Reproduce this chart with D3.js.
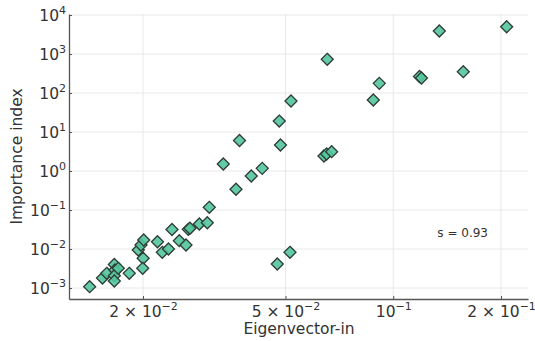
<!DOCTYPE html>
<html><head><meta charset="utf-8">
<script src="https://cdn.jsdelivr.net/npm/d3@7"></script>
<style>
body{margin:0;background:#fff}
svg{display:block}
text{font-family:"DejaVu Sans",sans-serif}
</style>
</head><body>
<svg id="chart" width="535" height="341"></svg>
<script>
// ---- data ----
const eigenvectorIn = [
  0.01419, 0.01541, 0.01584, 0.01663, 0.01670, 0.01663, 0.01663, 0.01706, 0.01831, 0.01940,
  0.01974, 0.02009, 0.02002, 0.01996, 0.02195, 0.02264, 0.02356, 0.02410, 0.02526, 0.02637,
  0.02676, 0.02705, 0.02873, 0.03024, 0.03063, 0.03352, 0.03637, 0.03720, 0.04013, 0.04306,
  0.04804, 0.04842, 0.04743, 0.05147, 0.05181, 0.06405, 0.06516, 0.06730, 0.06541, 0.08796,
  0.09143, 0.1184, 0.1199, 0.1345, 0.1569, 0.2074
];
const importanceIndex = [
  0.00108, 0.00180, 0.00238, 0.00401, 0.00290, 0.00207, 0.00151, 0.00320, 0.00238, 0.00942,
  0.01267, 0.01702, 0.00578, 0.00320, 0.01538, 0.00823, 0.01000, 0.0316, 0.01633, 0.01267,
  0.0320, 0.0340, 0.0438, 0.0472, 0.1173, 1.51, 0.340, 6.05, 0.745, 1.17,
  19.1, 4.64, 0.00412, 0.00823, 62.4, 2.43, 2.73, 3.13, 731, 66.2,
  177, 265, 243, 3890, 352, 5012
];
const yTickValues = [1e-3, 1e-2, 1e-1, 1e0, 1e1, 1e2, 1e3, 1e4];
const yTickExponents = ["−3", "−2", "−1", "0", "1", "2", "3", "4"];
const xTickValues = [0.02, 0.05, 0.1, 0.2];
const xTickMantissas = ["2 × ", "5 × ", "", "2 × "];
const xTickExponents = ["−2", "−2", "−1", "−1"];
const xLabel = "Eigenvector-in";
const yLabel = "Importance index";
const annotationText = "s = 0.93";

// ---- layout ----
const svg = d3.select("#chart");
const pLeft = 69, pRight = 528, pTop = 14, pBottom = 299;
const x = d3.scaleLog().domain([Math.pow(10, -1.9057), Math.pow(10, -0.6236)]).range([pLeft, pRight]);
const y = d3.scaleLog().domain([Math.pow(10, -3.282), Math.pow(10, 4.026)]).range([pBottom, pTop]);

// grid
const grid = svg.append("g").attr("stroke", "#e8e8e8").attr("stroke-width", 1);
grid.selectAll("line.h").data(yTickValues).join("line").attr("class", "h")
  .attr("x1", pLeft).attr("x2", pRight)
  .attr("y1", d => y(d)).attr("y2", d => y(d));
grid.selectAll("line.v").data(xTickValues).join("line").attr("class", "v")
  .attr("y1", pTop).attr("y2", pBottom)
  .attr("x1", d => x(d)).attr("x2", d => x(d));

// axes
const axisColor = "#555";
const gx = svg.append("g").attr("transform", `translate(0,${pBottom})`)
  .call(d3.axisBottom(x).tickValues(xTickValues).tickSizeInner(-3).tickSizeOuter(0).tickFormat(() => ""));
const gy = svg.append("g").attr("transform", `translate(${pLeft},0)`)
  .call(d3.axisLeft(y).tickValues(yTickValues).tickSizeInner(-3).tickSizeOuter(0).tickFormat(() => ""));
[gx, gy].forEach(g => {
  g.select(".domain").attr("stroke", axisColor).attr("stroke-width", 1.3);
  g.selectAll(".tick line").attr("stroke", axisColor).attr("stroke-width", 1);
  g.selectAll(".tick text").remove();
});

// x tick labels
gx.selectAll(".tick").each(function(d, i) {
  const t = d3.select(this).append("text")
    .attr("y", 18).attr("text-anchor", "middle")
    .attr("fill", "#333").attr("font-size", 15.5);
  t.append("tspan").text(xTickMantissas[i] + "10");
  t.append("tspan").attr("dy", -7).attr("font-size", 11).text(xTickExponents[i]);
});
// y tick labels
gy.selectAll(".tick").each(function(d, i) {
  const t = d3.select(this).append("text")
    .attr("x", -3).attr("y", 5.5).attr("text-anchor", "end")
    .attr("fill", "#333").attr("font-size", 15.5);
  t.append("tspan").text("10");
  t.append("tspan").attr("dy", -7).attr("font-size", 11).text(yTickExponents[i]);
});

// axis labels
svg.append("text").attr("x", 299).attr("y", 334)
  .attr("text-anchor", "middle").attr("font-size", 15.5).attr("fill", "#333").text(xLabel);
svg.append("text").attr("transform", `translate(22,${(pTop + pBottom) / 2}) rotate(-90)`)
  .attr("text-anchor", "middle").attr("font-size", 15.5).attr("fill", "#333").text(yLabel);

// points
const r = 6;
const diamond = `M0,${-r}L${r},0L0,${r}L${-r},0Z`;
const pts = eigenvectorIn.map((v, i) => ({x: v, y: importanceIndex[i]}));
svg.append("g").selectAll("path").data(pts).join("path")
  .attr("d", diamond)
  .attr("transform", d => `translate(${x(d.x)},${y(d.y)})`)
  .attr("fill", "#52c79c").attr("fill-opacity", 0.9)
  .attr("stroke", "#2e3b36").attr("stroke-width", 1.3);

// annotation
svg.append("text").attr("x", 488).attr("y", 237).attr("text-anchor", "end")
  .attr("font-size", 12).attr("fill", "#333").text(annotationText);
</script>
</body></html>
